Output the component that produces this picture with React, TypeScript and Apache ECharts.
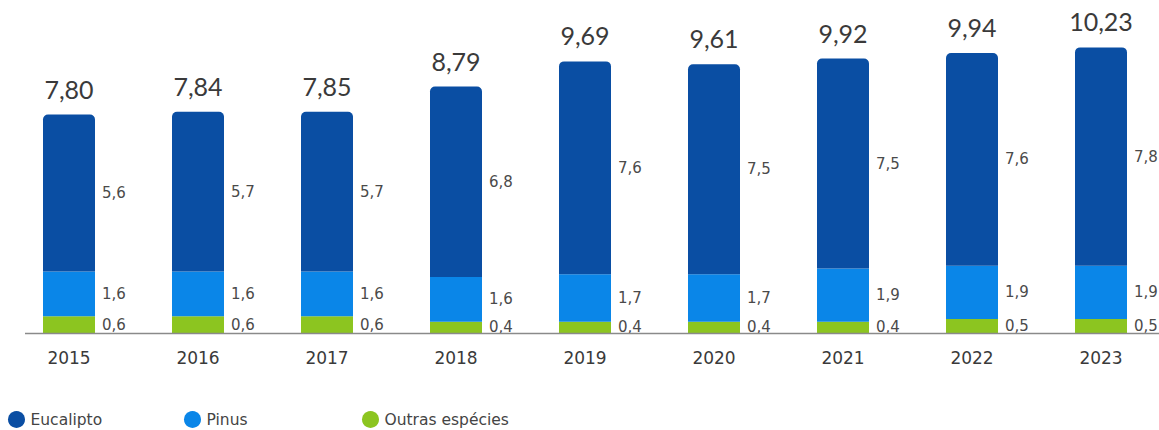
import React, { useEffect, useRef } from "react";
import * as echarts from "echarts";

const categories = ["2015", "2016", "2017", "2018", "2019", "2020", "2021", "2022", "2023"];
const eucalipto = [5.6, 5.7, 5.7, 6.8, 7.6, 7.5, 7.5, 7.6, 7.8];
const pinus = [1.6, 1.6, 1.6, 1.6, 1.7, 1.7, 1.9, 1.9, 1.9];
const outras = [0.6, 0.6, 0.6, 0.4, 0.4, 0.4, 0.4, 0.5, 0.5];
const totals = [7.8, 7.84, 7.85, 8.79, 9.69, 9.61, 9.92, 9.94, 10.23];

const C_EUC = "#0a4ea3";
const C_PIN = "#0a86e8";
const C_OUT = "#8cc520";
const FONT_TOTAL = "Lato, 'Noto Sans', sans-serif";
const FONT = "'DejaVu Sans', Verdana, sans-serif";

const fmt = (v: number, d: number) => v.toFixed(d).replace(".", ",");

export default function App() {
  const ref = useRef<HTMLDivElement>(null);
  useEffect(() => {
    if (!ref.current) return;
    const chart = echarts.init(ref.current, undefined, { renderer: "svg" });
    const stackTop = categories.map((_, i) => +(eucalipto[i] + pinus[i] + outras[i]).toFixed(2));
    const segLabel = {
      show: true,
      position: "right" as const,
      distance: 7,
      color: "#4a4a4a",
      fontSize: 15,
      fontFamily: FONT,
      formatter: (p: any) => fmt(p.value, 1),
    };
    const legendBase = {
      top: 411,
      padding: 0,
      itemWidth: 18,
      itemHeight: 17,
      icon: "circle",
      textStyle: { color: "#444", fontSize: 15.5, fontFamily: FONT },
      itemGap: 0,
    };
    chart.setOption({
      animation: false,
      grid: { left: 4.5, width: 1161, top: 25, height: 308 },
      legend: [
        { ...legendBase, left: 8, data: ["Eucalipto"] },
        { ...legendBase, left: 184, data: ["Pinus"] },
        { ...legendBase, left: 362, data: ["Outras espécies"] },
      ],
      xAxis: {
        type: "category",
        data: categories,
        axisLine: { show: false },
        axisTick: { show: false },
        axisLabel: { color: "#3a3a3a", fontSize: 17, fontFamily: FONT, margin: 16 },
      },
      yAxis: { type: "value", min: 0, max: 11, show: false, splitLine: { show: false } },
      graphic: [
        {
          type: "line",
          shape: { x1: 25, y1: 333.5, x2: 1159, y2: 333.5 },
          style: { stroke: "#8a8a8a", lineWidth: 1.5 },
          z: 10,
        },
      ],
      series: [
        {
          name: "Outras espécies",
          type: "bar",
          stack: "t",
          data: outras,
          barWidth: 52,
          itemStyle: { color: C_OUT },
          label: segLabel,
        },
        {
          name: "Pinus",
          type: "bar",
          stack: "t",
          data: pinus,
          itemStyle: { color: C_PIN },
          label: segLabel,
        },
        {
          name: "Eucalipto",
          type: "bar",
          stack: "t",
          data: eucalipto,
          itemStyle: { color: C_EUC, borderRadius: [5, 5, 0, 0] },
          label: segLabel,
        },
        {
          name: "Total",
          type: "line",
          data: stackTop,
          symbol: "circle",
          symbolSize: 1,
          showSymbol: true,
          itemStyle: { color: "rgba(0,0,0,0)" },
          lineStyle: { width: 0, color: "rgba(0,0,0,0)" },
          silent: true,
          z: 20,
          label: {
            show: true,
            position: "top",
            distance: 13,
            color: "#3a3a3a",
            fontSize: 25,
            fontWeight: 400,
            fontFamily: FONT_TOTAL,
            formatter: (p: any) => fmt(totals[p.dataIndex], 2),
          },
        },
      ],
    });
    return () => chart.dispose();
  }, []);
  return (
    <div style={{ position: "fixed", left: 0, top: 0, width: 1159, height: 430, overflow: "hidden", background: "#fff" }}>
      <div ref={ref} style={{ width: 1170, height: 430 }} />
    </div>
  );
}
